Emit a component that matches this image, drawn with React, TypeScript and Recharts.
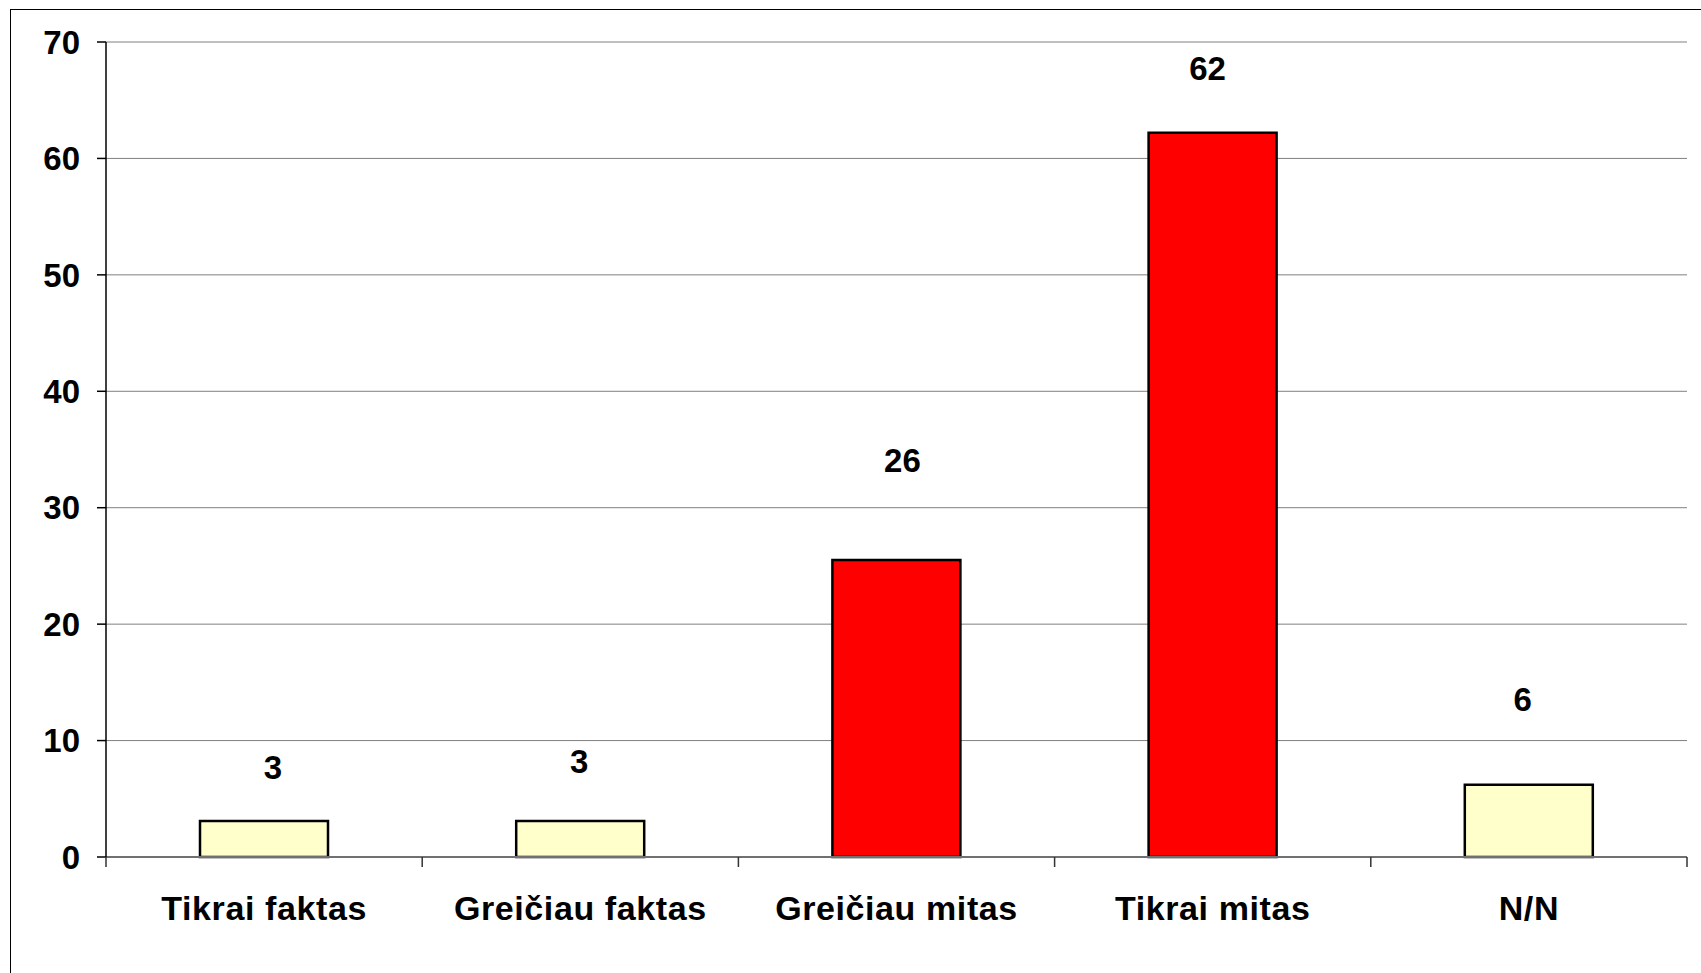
import React from "react";
import { Bar, BarChart, CartesianGrid, Cell, LabelList, XAxis, YAxis } from "recharts";

const categories = ["Tikrai faktas", "Greičiau faktas", "Greičiau mitas", "Tikrai mitas", "N/N"];
const values = [3.1, 3.1, 25.5, 62.2, 6.2];
const shownValues = ["3", "3", "26", "62", "6"];
const yTicks = [0, 10, 20, 30, 40, 50, 60, 70];
const barColors = ["#FFFFCC", "#FFFFCC", "#FF0000", "#FF0000", "#FFFFCC"];

// label placement (manually dragged in the original)
const labelLift = [53, 59, 100, 64, 85];
const labelDx = [9, -1, 6, -5, -6];

const data = categories.map((name, i) => ({ name, value: values[i] }));

const W = 1701;
const H = 973;
const PLOT_L = 106;
const PLOT_R = 1687;
const BAND = (PLOT_R - PLOT_L) / categories.length;
const FONT = "'Liberation Sans', Arial, sans-serif";

function CategoryTick(props: any) {
  const { x, y, payload, index } = props;
  const left = x - BAND / 2;
  return (
    <g>
      <line x1={left} x2={left} y1={y} y2={y + 10} stroke="#333" strokeWidth={1.5} />
      {index === categories.length - 1 && (
        <line x1={x + BAND / 2} x2={x + BAND / 2} y1={y} y2={y + 10} stroke="#333" strokeWidth={1.5} />
      )}
      <text
        x={x}
        y={y + 63}
        textAnchor="middle"
        fontFamily={FONT}
        fontWeight="bold"
        fontSize={34}
        letterSpacing={0.6}
        fill="#000"
      >
        {payload.value}
      </text>
    </g>
  );
}

function ValueLabel(props: any) {
  const { x, y, width, index } = props;
  return (
    <text
      x={x + width / 2 + labelDx[index]}
      y={y - labelLift[index]}
      textAnchor="middle"
      dominantBaseline="central"
      fontFamily={FONT}
      fontWeight="bold"
      fontSize={33}
      fill="#000"
    >
      {shownValues[index]}
    </text>
  );
}

export default function App() {
  return (
    <div style={{ position: "fixed", left: 0, top: 0, width: W, height: H, overflow: "hidden", background: "#fff" }}>
      <div
        style={{
          position: "absolute",
          left: 10,
          top: 9,
          width: W,
          height: H,
          borderLeft: "1.5px solid #000",
          borderTop: "1.5px solid #000",
        }}
      />
      <div style={{ position: "absolute", left: 0, top: 0 }}>
        <BarChart width={W} height={H} data={data} margin={{ top: 42, right: W - PLOT_R, bottom: 56, left: 0 }}>
          <CartesianGrid vertical={false} stroke="#808080" strokeWidth={1} />
          <XAxis
            dataKey="name"
            height={60}
            axisLine={{ stroke: "#707070", strokeWidth: 2 }}
            tickLine={false}
            tickSize={0}
            tickMargin={0}
            tick={<CategoryTick />}
            interval={0}
          />
          <XAxis
            xAxisId="top"
            orientation="top"
            dataKey="name"
            height={0}
            axisLine={{ stroke: "#888", strokeWidth: 2.5 }}
            tick={false}
            tickLine={false}
          />
          <YAxis
            width={PLOT_L}
            domain={[0, 70]}
            ticks={yTicks}
            interval={0}
            axisLine={{ stroke: "#000", strokeWidth: 1.5 }}
            tickLine={{ stroke: "#000", strokeWidth: 1.5 }}
            tickSize={9}
            tickMargin={17}
            tick={{ fontFamily: FONT, fontWeight: "bold", fontSize: 33, fill: "#000" }}
          />
          <YAxis
            yAxisId="right"
            orientation="right"
            width={0}
            domain={[0, 70]}
            axisLine={{ stroke: "#888", strokeWidth: 2.5 }}
            tick={false}
            tickLine={false}
          />
          <Bar dataKey="value" barSize={128} stroke="#000" strokeWidth={2.5} isAnimationActive={false}>
            {data.map((_, i) => (
              <Cell key={i} fill={barColors[i]} />
            ))}
            <LabelList dataKey="value" content={<ValueLabel />} />
          </Bar>
        </BarChart>
      </div>
    </div>
  );
}
